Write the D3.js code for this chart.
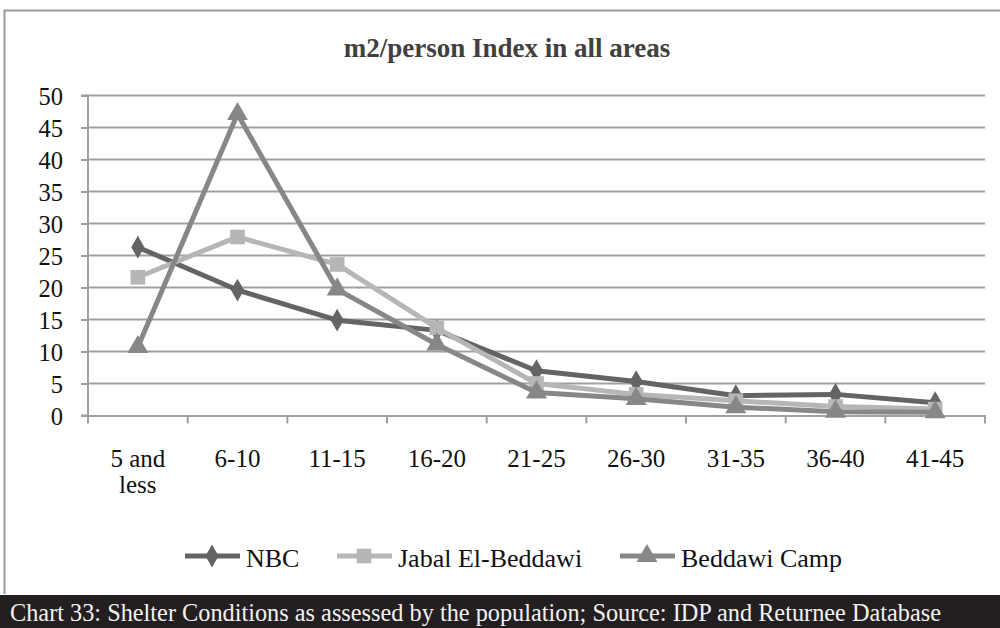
<!DOCTYPE html>
<html><head><meta charset="utf-8">
<script src="https://cdn.jsdelivr.net/npm/d3@7"></script>
<style>body{margin:0;background:#fff}svg{display:block}text{font-family:"Liberation Serif","Times New Roman",serif}</style>
</head><body><svg id="c" width="1000" height="628"></svg>
<script>
const categories = ["5 and less","6-10","11-15","16-20","21-25","26-30","31-35","36-40","41-45"];
const nbc = [26.3,19.6,14.9,13.3,7.0,5.3,3.1,3.3,2.0];
const jabal = [21.6,27.9,23.6,13.7,5.0,3.3,2.3,1.4,1.0];
const beddawi = [10.7,47.1,19.7,11.1,3.6,2.6,1.3,0.6,0.5];
const yTicks = [0,5,10,15,20,25,30,35,40,45,50];
const seriesNames = ["NBC","Jabal El-Beddawi","Beddawi Camp"];
const title = "m2/person Index in all areas";
const caption = "Chart 33: Shelter Conditions as assessed by the population; Source: IDP and Returnee Database";

const series = [
  {name:seriesNames[0], values:nbc, color:"#646464", sym:d3.symbolDiamond, size:150},
  {name:seriesNames[1], values:jabal, color:"#b4b6b7", sym:d3.symbolSquare, size:215},
  {name:seriesNames[2], values:beddawi, color:"#878787", sym:d3.symbolTriangle, size:190}
];
const svg = d3.select("#c");
const m = {l:88, r:985, t:95.5, b:415.5};
const x = d3.scaleBand().domain(categories).range([m.l, m.r]);
const y = d3.scaleLinear().domain([0,50]).range([m.b, m.t]);
const grid = "#a0a0a0";

// outer border
svg.append("path").attr("d","M1000,10.5 H4.5 V594").attr("fill","none").attr("stroke","#9a9a9a").attr("stroke-width",2);
// footer
svg.append("rect").attr("x",0).attr("y",595).attr("width",1000).attr("height",33).attr("fill","#231f20");
svg.append("text").attr("x",10).attr("y",621).attr("fill","#f2f2f2").attr("font-size",24.3).text(caption);

// title
svg.append("text").attr("x",507).attr("y",57).attr("text-anchor","middle").attr("font-weight","bold").attr("font-size",27).attr("fill","#404040").text(title);

// gridlines
svg.append("g").selectAll("line").data(yTicks.filter(d=>d>0)).join("line")
  .attr("x1",m.l).attr("x2",m.r).attr("y1",d=>y(d)).attr("y2",d=>y(d))
  .attr("stroke",grid).attr("stroke-width",2);

// y axis
const ya = svg.append("g").attr("transform",`translate(${m.l},0)`).call(d3.axisLeft(y).tickValues(yTicks).tickSize(7).tickPadding(18));
ya.select(".domain").attr("stroke",grid).attr("stroke-width",2).attr("d",`M-7,${m.t}H0V${m.b}H-7`);
ya.selectAll(".tick line").attr("stroke",grid).attr("stroke-width",2);
ya.selectAll(".tick text").attr("font-family","Liberation Serif").attr("font-size",24.5).attr("fill","#111").attr("dy","0.38em");

// x axis
const xa = svg.append("g").attr("transform",`translate(0,${m.b})`).call(d3.axisBottom(x).tickSize(0).tickFormat(""));
xa.select(".domain").attr("stroke",grid).attr("stroke-width",2);
const bounds = categories.map(c=>x(c)).concat([m.r]);
xa.append("g").selectAll("line").data(bounds).join("line")
  .attr("x1",d=>d).attr("x2",d=>d).attr("y1",0).attr("y2",8).attr("stroke",grid).attr("stroke-width",2);
categories.forEach(d=>{
  const parts = d==="5 and less" ? ["5 and","less"] : [d];
  parts.forEach((p,i)=>svg.append("text")
    .attr("x",x(d)+x.bandwidth()/2).attr("y",467+i*26).attr("text-anchor","middle")
    .attr("font-size",25).attr("fill","#111").text(p));
});

// lines
const line = d3.line().x((d,i)=>x(categories[i])+x.bandwidth()/2).y(d=>y(d));
series.forEach(s=>{
  const g = svg.append("g");
  g.append("path").datum(s.values).attr("d",line).attr("fill","none").attr("stroke",s.color).attr("stroke-width",5).attr("stroke-linejoin","round");
  g.selectAll("path.m").data(s.values).join("path").attr("class","m")
    .attr("transform",(d,i)=>`translate(${x(categories[i])+x.bandwidth()/2},${y(d)})`)
    .attr("d",d3.symbol().type(s.sym).size(s.size)).attr("fill",s.color);
});

// legend
const legX = [185, 337, 620];
series.forEach((s,i)=>{
  const g = svg.append("g").attr("transform",`translate(${legX[i]},556)`);
  g.append("line").attr("x1",0).attr("x2",55).attr("stroke",s.color).attr("stroke-width",5);
  g.append("path").attr("transform","translate(27,0)").attr("d",d3.symbol().type(s.sym).size(s.size)).attr("fill",s.color);
  g.append("text").attr("x",61).attr("y",10.5).attr("font-size",26).attr("fill","#111").text(s.name);
});
</script></body></html>
